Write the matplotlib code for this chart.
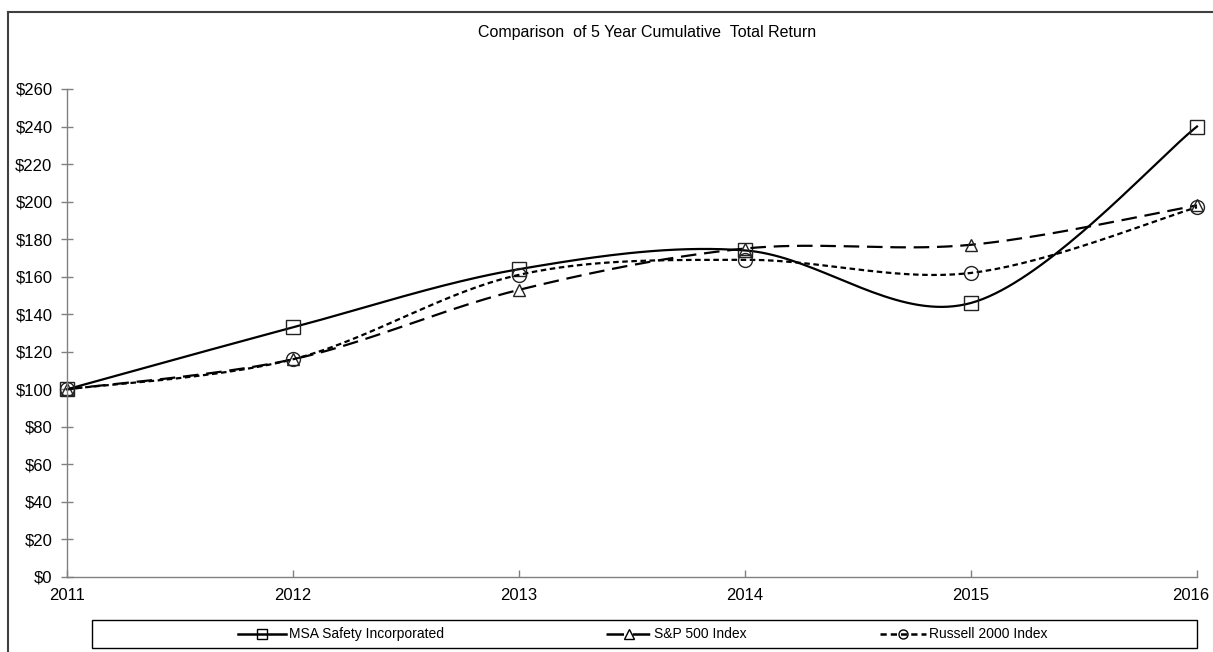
import numpy as np
import matplotlib
matplotlib.use("Agg")
import matplotlib.pyplot as plt
import matplotlib.transforms as mtransforms
from matplotlib.lines import Line2D
from matplotlib.patches import Rectangle

years = [2011, 2012, 2013, 2014, 2015, 2016]
msa = [100, 133, 164, 174, 146, 240]
sp500 = [100, 116, 153, 175, 177, 198]
russell = [100, 116, 161, 169, 162, 197]
ytick_vals = list(range(0, 261, 20))
ytick_labels = [f"${v}" for v in ytick_vals]
title = "Comparison  of 5 Year Cumulative  Total Return"
labels = ["MSA Safety Incorporated", "S&P 500 Index", "Russell 2000 Index"]

plt.rcParams['font.family'] = ['Liberation Sans', 'DejaVu Sans']

W, H = 1213, 652
fig = plt.figure(figsize=(W / 100, H / 100), dpi=100)

def smooth(xs, ys, n=40):
    xs = np.asarray(xs, float); ys = np.asarray(ys, float)
    px = np.concatenate([[xs[0]], xs, [xs[-1]]])
    py = np.concatenate([[ys[0]], ys, [ys[-1]]])
    outx, outy = [], []
    t = np.linspace(0, 1, n)
    for i in range(len(xs) - 1):
        p0x, p0y = px[i + 1], py[i + 1]
        p3x, p3y = px[i + 2], py[i + 2]
        c1x = p0x + (px[i + 2] - px[i]) / 6; c1y = p0y + (py[i + 2] - py[i]) / 6
        c2x = p3x - (px[i + 3] - px[i + 1]) / 6; c2y = p3y - (py[i + 3] - py[i + 1]) / 6
        bx = (1 - t) ** 3 * p0x + 3 * (1 - t) ** 2 * t * c1x + 3 * (1 - t) * t ** 2 * c2x + t ** 3 * p3x
        by = (1 - t) ** 3 * p0y + 3 * (1 - t) ** 2 * t * c1y + 3 * (1 - t) * t ** 2 * c2y + t ** 3 * p3y
        outx.extend(bx); outy.extend(by)
    return np.array(outx), np.array(outy)

# outer border (left and top visible)
fig.add_artist(Line2D([8 / W, 8 / W], [0, 1 - 12 / H], transform=fig.transFigure,
                      color='#404040', lw=1.5))
fig.add_artist(Line2D([8 / W, 1], [1 - 12 / H, 1 - 12 / H], transform=fig.transFigure,
                      color='#404040', lw=1.5))

left, right = 67 / W, 1197 / W
bottom, top = (H - 577) / H, (H - 89) / H
ax = fig.add_axes([left, bottom, right - left, top - bottom])
ax.set_xlim(2011, 2016)
ax.set_ylim(0, 260)
for s in ['top', 'right']:
    ax.spines[s].set_visible(False)
for s in ['left', 'bottom']:
    ax.spines[s].set_color('#808080')
    ax.spines[s].set_linewidth(1.0)

styles = [
    dict(ls='-', marker='s', dashes=None),
    dict(ls='--', marker='^', dashes=(7, 3.5)),
    dict(ls='--', marker='o', dashes=(2.5, 1.6)),
]
series = [msa, sp500, russell]
for vals, st in zip(series, styles):
    sx, sy = smooth(years, vals)
    kw = dict(color='black', lw=1.6, clip_on=False)
    if st['dashes']:
        ax.plot(sx, sy, linestyle='--', dashes=st['dashes'], **kw)
    else:
        ax.plot(sx, sy, linestyle='-', **kw)
    ax.plot(years, vals, linestyle='none', marker=st['marker'], markersize=10 if st['marker'] != '^' else 9,
            markerfacecolor='none', markeredgecolor='#222222', markeredgewidth=1.0, clip_on=False)

ax.set_yticks(ytick_vals)
ax.set_yticklabels(ytick_labels)
ax.set_xticks(years)
ax.set_xticklabels([str(y) for y in years])
ax.tick_params(axis='y', direction='inout', length=9, width=1, color='#808080', pad=6, labelsize=12)
ax.tick_params(axis='x', direction='in', length=5, width=1, color='#808080', pad=8, labelsize=12)
# keep the last year label inside the canvas
last = ax.get_xticklabels()[-1]
last.set_transform(last.get_transform() + mtransforms.ScaledTranslation(-6 / 100, 0, fig.dpi_scale_trans))

fig.text(647 / W, 1 - 33 / H, title, ha='center', va='center', fontsize=11.5)

# legend box
lb_x0, lb_x1 = 92 / W, 1197 / W
lb_y0, lb_y1 = 1 - 648 / H, 1 - 620 / H
fig.add_artist(Rectangle((lb_x0, lb_y0), lb_x1 - lb_x0, lb_y1 - lb_y0, transform=fig.transFigure,
                         fill=False, edgecolor='black', lw=1.0))
ly = (lb_y0 + lb_y1) / 2
leg_pos = [(238, 286), (606, 651), (880, 926)]
for (x0, x1), st, lab in zip(leg_pos, styles, labels):
    kw = dict(transform=fig.transFigure, color='black', lw=1.8)
    if st['dashes']:
        ln = Line2D([x0 / W, x1 / W], [ly, ly], linestyle='--', dashes=st['dashes'], **kw)
    else:
        ln = Line2D([x0 / W, x1 / W], [ly, ly], linestyle='-', **kw)
    fig.add_artist(ln)
    fig.add_artist(Line2D([(x0 + x1) / 2 / W], [ly], transform=fig.transFigure, linestyle='none',
                          marker=st['marker'], markersize=6.5, markerfacecolor='none',
                          markeredgecolor='black', markeredgewidth=1.0))
    fig.text((x1 + 3) / W, ly, lab, ha='left', va='center', fontsize=10)

fig.savefig('out.png', dpi=100)
